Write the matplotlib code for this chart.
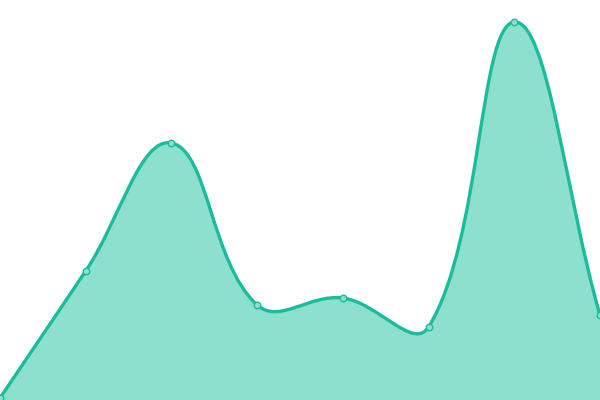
import numpy as np
import matplotlib
matplotlib.use("Agg")
import matplotlib.pyplot as plt
from matplotlib.path import Path
from matplotlib.patches import PathPatch

# values (pixel height above the bottom edge)
labels = ["A", "B", "C", "D", "E", "F", "G", "H"]
values = [2, 129, 257, 95, 102, 73, 378, 85]

line_color = "#1abc9c"
fill_color = "#8ddfce"
tension = 0.4

W, H = 600, 400
x = np.arange(len(values), dtype=float)
y = np.array(values, dtype=float)

fig = plt.figure(figsize=(W / 100, H / 100), dpi=100)
ax = fig.add_axes([0, 0, 1, 1])
ax.set_xlim(0, len(values) - 1)
ax.set_ylim(0, H)
ax.axis("off")

# spline control points computed in pixel space (chart.js style)
sx = W / (len(values) - 1)
px = x * sx
py = y
n = len(px)
cp_prev = np.zeros((n, 2))
cp_next = np.zeros((n, 2))
for i in range(n):
    p0 = (px[max(i - 1, 0)], py[max(i - 1, 0)])
    p1 = (px[i], py[i])
    p2 = (px[min(i + 1, n - 1)], py[min(i + 1, n - 1)])
    d01 = np.hypot(p1[0] - p0[0], p1[1] - p0[1])
    d12 = np.hypot(p2[0] - p1[0], p2[1] - p1[1])
    tot = d01 + d12
    s01 = d01 / tot if tot else 0
    s12 = d12 / tot if tot else 0
    fa = tension * s01
    fb = tension * s12
    cp_prev[i] = (p1[0] - fa * (p2[0] - p0[0]), p1[1] - fa * (p2[1] - p0[1]))
    cp_next[i] = (p1[0] + fb * (p2[0] - p0[0]), p1[1] + fb * (p2[1] - p0[1]))
cp_prev[:, 1] = np.clip(cp_prev[:, 1], 0, H)
cp_next[:, 1] = np.clip(cp_next[:, 1], 0, H)

verts = [(px[0] / sx, py[0])]
codes = [Path.MOVETO]
for i in range(n - 1):
    verts += [(cp_next[i, 0] / sx, cp_next[i, 1]),
              (cp_prev[i + 1, 0] / sx, cp_prev[i + 1, 1]),
              (px[i + 1] / sx, py[i + 1])]
    codes += [Path.CURVE4] * 3

fill_verts = verts + [(x[-1], 0), (x[0], 0), verts[0]]
fill_codes = codes + [Path.LINETO, Path.LINETO, Path.CLOSEPOLY]
ax.add_patch(PathPatch(Path(fill_verts, fill_codes), facecolor=fill_color,
                       edgecolor="none", zorder=1))
ax.add_patch(PathPatch(Path(verts, codes), facecolor="none",
                       edgecolor=line_color, linewidth=2.4, zorder=2,
                       capstyle="round", joinstyle="round"))

ax.scatter(x, y, s=22, facecolor=fill_color, edgecolor=line_color,
           linewidth=1, zorder=3, clip_on=False)

fig.savefig("out.png", dpi=100)
